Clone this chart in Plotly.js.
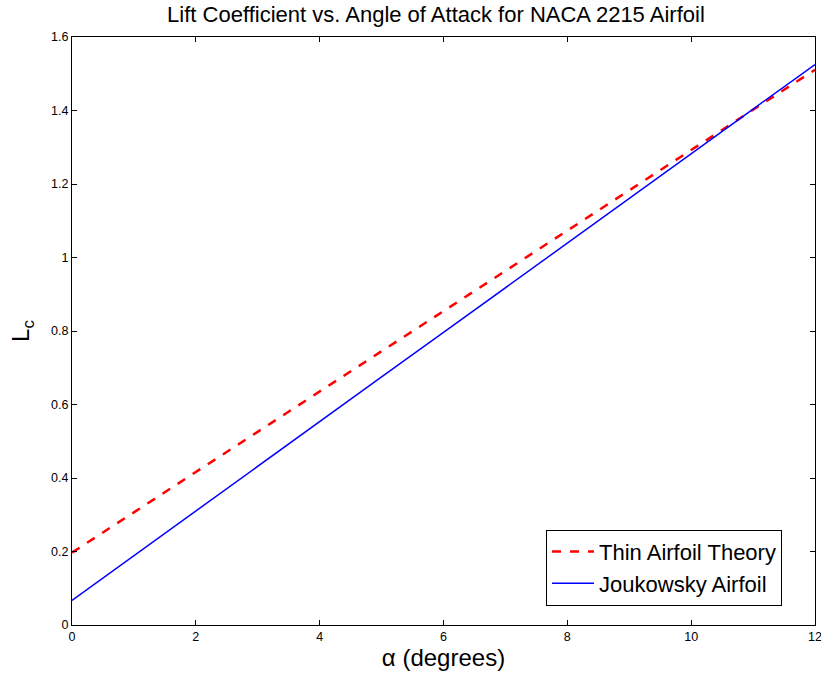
<!DOCTYPE html>
<html>
<head>
<meta charset="utf-8">
<script src="https://cdn.plot.ly/plotly-3.0.1.min.js"></script>
<style>html,body{margin:0;padding:0;background:#fff;}#chart{width:821px;height:673px;}</style>
</head>
<body>
<div id="chart"></div>
<script>
const alphaDeg = [0,1,2,3,4,5,6,7,8,9,10,11,12];
const thinAirfoil = [0.197,0.307,0.416,0.526,0.635,0.745,0.854,0.964,1.073,1.183,1.292,1.402,1.511];
const joukowsky = [0.067,0.189,0.310,0.432,0.553,0.675,0.796,0.918,1.039,1.161,1.282,1.404,1.525];
const xTicks = [0,2,4,6,8,10,12];
const yTicks = [0,0.2,0.4,0.6,0.8,1,1.2,1.4,1.6];
const yTickText = ['0','0.2','0.4','0.6','0.8','1','1.2','1.4','1.6'];

const traces = [
  {x: alphaDeg, y: thinAirfoil, mode: 'lines', name: 'Thin Airfoil Theory',
   line: {color: '#ff0000', width: 2.5, dash: 'dash'}},
  {x: alphaDeg, y: joukowsky, mode: 'lines', name: 'Joukowsky Airfoil',
   line: {color: '#0000ff', width: 1.5}}
];
const font = "Liberation Sans, Arial, sans-serif";
const layout = {
  width: 821, height: 673,
  margin: {l: 72, r: 6, t: 37, b: 48},
  paper_bgcolor: '#fff', plot_bgcolor: '#fff',
  font: {family: font, color: '#000', size: 12},
  title: {text: 'Lift Coefficient vs. Angle of Attack for NACA 2215 Airfoil',
          font: {size: 22, family: font, color: '#000'}, x: 0.531, xanchor: 'center', y: 0.979, yanchor: 'middle'},
  xaxis: {range: [0, 12], tickvals: xTicks, ticktext: xTicks.map(String),
          ticks: 'inside', ticklen: 5, tickcolor: '#000', mirror: 'ticks',
          showline: true, linecolor: '#000', linewidth: 1, showgrid: false, zeroline: false,
          ticklabeloverflow: 'allow',
          title: {text: 'α (degrees)', font: {size: 24, family: font}, standoff: 4},
          tickfont: {size: 12.5}},
  yaxis: {range: [0, 1.6], tickvals: yTicks, ticktext: yTickText,
          ticks: 'inside', ticklen: 5, tickcolor: '#000', mirror: 'ticks',
          showline: true, linecolor: '#000', linewidth: 1, showgrid: false, zeroline: false,
          title: {text: 'L<sub>c</sub>', font: {size: 24, family: font}, standoff: 14},
          tickfont: {size: 12.5}},
  legend: {x: 0.638, y: 0.162, xanchor: 'left', yanchor: 'top',
           bgcolor: '#fff', bordercolor: '#000', borderwidth: 1, itemwidth: 42,
           font: {size: 22, family: font}, tracegroupgap: 0},
  showlegend: true
};
Plotly.newPlot('chart', traces, layout, {displayModeBar: false, staticPlot: true});
</script>
</body>
</html>
